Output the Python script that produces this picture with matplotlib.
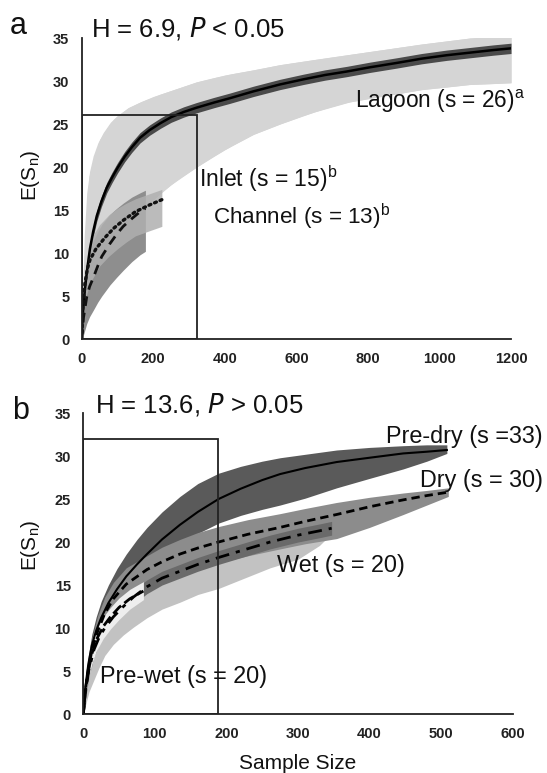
import numpy as np
import matplotlib
matplotlib.use("Agg")
import matplotlib.pyplot as plt
from matplotlib.patches import Rectangle

plt.rcParams['font.family'] = ['Liberation Sans', 'DejaVu Sans']
plt.rcParams['mathtext.fontset'] = 'custom'
plt.rcParams['mathtext.rm'] = 'Liberation Sans'

# ---------- panel a: sites ----------
lagoon_n = [0, 2, 5, 9, 15, 23, 32, 42, 55, 70, 85, 100, 120, 140, 163, 190, 220, 250, 285,
            321, 370, 414, 480, 554, 620, 680, 740, 806, 880, 950, 1020, 1085, 1150, 1200]
lagoon_mean = [0, 2, 4, 5.8, 8, 10.5, 12.5, 14.3, 16.0, 17.6, 18.8, 19.9, 21.2, 22.3, 23.4, 24.3, 25.1,
               25.8, 26.4, 26.9, 27.5, 28.0, 28.8, 29.6, 30.2, 30.7, 31.1, 31.6, 32.1, 32.6, 33.0,
               33.3, 33.6, 33.8]
lagoon_hi_n = [0, 3, 7, 14, 22, 32, 45, 60, 80, 100, 130, 160, 200, 250, 321, 400, 480, 554,
               650, 750, 850, 950, 1085, 1200]
lagoon_hi = [0, 6, 12, 17, 19.5, 21.3, 22.8, 24.0, 25.2, 26.0, 26.9, 27.5, 28.2, 28.9, 29.9, 30.7,
             31.3, 31.9, 32.5, 33.1, 33.7, 34.3, 35.0, 35.3]
lagoon_lo_n = [0, 20, 50, 90, 130, 170, 220, 270, 321, 370, 420, 480, 554, 620, 680, 740, 806,
               880, 950, 1020, 1085, 1150, 1200]
lagoon_lo = [0, 3.5, 7, 10.5, 13, 15, 17.0, 18.6, 20.0, 21.3, 22.5, 23.8, 25.0, 26.0, 26.8, 27.5,
             28.0, 28.5, 29.0, 29.3, 29.6, 29.7, 29.8]
lagoon_inner = 0.6

inlet_n = [0, 3, 9, 16, 23, 40, 65, 90, 116, 150, 190, 224]
inlet_mean = [0, 3.5, 6.5, 8.2, 9.2, 10.5, 11.8, 12.9, 13.8, 14.8, 15.6, 16.2]
inlet_band_n = [0, 9, 23, 50, 75, 100, 125, 150, 190, 224]
inlet_hi = [0, 8, 11.5, 13.3, 14.4, 15.2, 15.8, 16.3, 16.9, 17.4]
inlet_lo = [0, 4.5, 6.5, 8.5, 9.6, 10.5, 11.3, 12.0, 12.6, 13.1]

channel_n = [0, 5, 14, 22, 33, 45, 56, 79, 98, 116, 140, 163, 178]
channel_mean = [0, 2.5, 4.9, 6.1, 7.2, 8.5, 9.6, 11.1, 12.2, 13.1, 14.0, 14.8, 15.2]
channel_hi = [0, 5, 8.5, 10.2, 11.5, 12.5, 13.3, 14.5, 15.2, 15.8, 16.5, 17.0, 17.3]
channel_lo = [0, 0.5, 1.8, 2.6, 3.4, 4.3, 5.0, 6.3, 7.2, 8.0, 9.0, 9.8, 10.2]

box_a = (322, 26.0)

# ---------- panel b: seasons ----------
predry_n = [0, 3, 7, 12, 18, 25, 35, 47, 60, 75, 89, 110, 135, 160, 189, 220, 250, 275, 310,
            354, 400, 447, 480, 508]
predry_mean = [0, 3.2, 5.8, 8.0, 9.7, 11.2, 12.9, 14.5, 16.0, 17.4, 18.6, 20.3, 22.0, 23.5, 25.0,
               26.2, 27.2, 27.9, 28.6, 29.3, 29.8, 30.3, 30.5, 30.7]
predry_hi = [0, 3.8, 6.8, 9.3, 11.3, 13.1, 15.0, 16.9, 18.6, 20.3, 21.7, 23.5, 25.3, 26.8, 28.0,
             28.8, 29.4, 29.8, 30.2, 30.7, 31.0, 31.2, 31.3, 31.3]
predry_lo = [0, 2.6, 4.8, 6.7, 8.1, 9.4, 10.9, 12.3, 13.6, 14.9, 16.0, 17.7, 19.5, 21.0, 22.2,
             23.1, 23.8, 24.3, 25.1, 26.3, 27.4, 28.5, 29.4, 30.3]

dry_n = [0, 3, 7, 12, 20, 30, 42, 60, 89, 110, 135, 160, 189, 230, 275, 310, 354, 400, 447,
         480, 510]
dry_mean = [0, 2.8, 5.2, 7.4, 9.6, 11.7, 13.4, 15.1, 16.8, 17.7, 18.6, 19.3, 20.0, 20.9, 21.7,
            22.4, 23.2, 24.1, 24.9, 25.4, 25.8]
dry_hi = [0, 3.4, 6.2, 8.8, 11.4, 13.6, 15.3, 17.0, 18.4, 19.4, 20.3, 21.1, 21.8, 22.6, 23.3,
          23.9, 24.6, 25.2, 25.7, 26.0, 26.3]
dry_lo = [0, 2.2, 4.2, 6.0, 7.8, 9.8, 11.5, 13.2, 14.8, 15.6, 16.3, 17.0, 17.6, 18.4, 19.2,
          19.8, 20.4, 21.7, 23.2, 24.3, 25.3]

wet_n = [0, 3, 8, 15, 22, 30, 42, 56, 70, 89, 110, 135, 160, 189, 225, 261, 300, 330, 347]
wet_mean = [0, 2.6, 5.2, 7.5, 8.9, 10.0, 11.3, 12.5, 13.6, 14.8, 15.8, 16.6, 17.4, 18.2, 19.1,
            20.0, 20.8, 21.3, 21.6]
wet_hi = [0, 3.4, 6.4, 8.9, 10.3, 11.4, 12.7, 13.9, 15.0, 16.2, 17.1, 17.9, 18.6, 19.3, 20.3,
          21.1, 21.8, 22.1, 22.2]
wet_lo = [0, 1.0, 2.6, 4.0, 5.4, 6.8, 8.1, 9.2, 10.1, 11.2, 12.2, 13.0, 13.9, 14.6, 15.8, 17.0,
          18.0, 19.6, 21.0]
wet_inner = 0.8

prewet_n = [0, 3, 7, 12, 18, 28, 38, 50, 65, 84]
prewet_mean = [0, 2.8, 5.0, 7.0, 8.6, 10.2, 11.3, 12.4, 13.4, 14.3]
prewet_hi = [0, 3.4, 5.9, 8.2, 9.8, 11.3, 12.4, 13.5, 14.5, 15.4]
prewet_lo = [0, 2.0, 4.0, 5.8, 7.3, 8.8, 9.9, 11.0, 12.2, 13.3]

box_b = (188.6, 32.0)

W, H = 547, 773
fig = plt.figure(figsize=(W / 100, H / 100), dpi=100)
axa = fig.add_axes([0.1494, 0.5614, 0.7848, 0.3894])
axb = fig.add_axes([0.1523, 0.0763, 0.7850, 0.3894])


def style(ax, xmax, xticks):
    ax.set_xlim(0, xmax)
    ax.set_ylim(0, 35)
    ax.set_xticks(xticks)
    ax.set_yticks(range(0, 36, 5))
    for s in ("top", "right"):
        ax.spines[s].set_visible(False)
    for s in ("left", "bottom"):
        ax.spines[s].set_linewidth(1.3)
        ax.spines[s].set_color("#222222")
    ax.tick_params(length=0, pad=9, labelsize=10.5, colors="#222222")
    for lab in ax.get_xticklabels() + ax.get_yticklabels():
        lab.set_fontweight("bold")
    ax.set_facecolor("none")


# panel a
lm = np.array(lagoon_mean)
axa.fill_between(lagoon_hi_n, lagoon_hi, np.interp(lagoon_hi_n, lagoon_lo_n, lagoon_lo),
                 color="#d5d5d5", lw=0, zorder=1)
axa.fill_between(lagoon_lo_n, np.interp(lagoon_lo_n, lagoon_hi_n, lagoon_hi), lagoon_lo,
                 color="#d5d5d5", lw=0, zorder=1)
axa.fill_between(lagoon_n, lm + lagoon_inner, np.clip(lm - lagoon_inner, 0, None),
                 color="#4a4a4a", lw=0, zorder=2)
axa.plot(lagoon_n, lagoon_mean, color="black", lw=1.8, zorder=6)
axa.fill_between(channel_n, channel_hi, channel_lo, color="#8e8e8e", lw=0, zorder=3)
axa.fill_between(inlet_band_n, inlet_hi, inlet_lo, color="#b0b0b0", alpha=0.85, lw=0, zorder=4)
axa.plot(inlet_n, inlet_mean, color="#111111", lw=2.4, ls=(0, (0.6, 1.2)),
         dash_capstyle="round", zorder=6)
axa.plot(channel_n, channel_mean, color="#111111", lw=2.0, ls=(0, (3.5, 2.5)), zorder=6)
axa.add_patch(Rectangle((0, 0), box_a[0], box_a[1], fill=False, lw=1.3, ec="#222222", zorder=7))
style(axa, 1200, range(0, 1201, 200))

# panel b
axb.fill_between(wet_n, wet_hi, wet_lo, color="#c2c2c2", lw=0, zorder=1)
axb.fill_between(predry_n, predry_hi, predry_lo, color="#5a5a5a", lw=0, zorder=2)
axb.fill_between(dry_n, dry_hi, dry_lo, color="#8c8c8c", lw=0, zorder=3)
wm = np.array(wet_mean)
axb.fill_between(wet_n, wm + wet_inner, np.clip(wm - wet_inner, 0, None),
                 color="#6a6a6a", lw=0, zorder=4)
axb.fill_between(prewet_n, prewet_hi, prewet_lo, color="#eeeeee", lw=0, zorder=5)
axb.plot(predry_n, predry_mean, color="black", lw=1.5, zorder=6)
axb.plot(dry_n, dry_mean, color="black", lw=2.0, ls=(0, (3, 1.8)), zorder=6)
axb.plot(wet_n, wet_mean, color="black", lw=2.0, ls=(0, (5, 2.5, 1.5, 2.5)), zorder=6)
axb.plot(prewet_n, prewet_mean, color="black", lw=2.0, ls=(0, (4, 1.5)), zorder=6)
axb.add_patch(Rectangle((0, 0), box_b[0], box_b[1], fill=False, lw=1.3, ec="#222222", zorder=7))
style(axb, 600, range(0, 601, 100))


def txt(x, y, s, size=16.8, **kw):
    fig.text(x / W, 1 - y / H, s, fontsize=size, va="baseline", color="#111111", **kw)


txt(10, 34, "a", size=22)
txt(91, 36, "H = 6.9, $\\it{P}$ < 0.05", size=18.5)
txt(355, 108, "Lagoon (s = 26)$^\\mathregular{a}$", size=16.3)
txt(199, 187, "Inlet (s = 15)$^\\mathregular{b}$", size=16.5)
txt(213, 224, "Channel (s = 13)$^\\mathregular{b}$", size=16.2)

txt(12, 419, "b", size=22)
txt(95, 413, "H = 13.6, $\\it{P}$ > 0.05", size=18.5)
txt(543, 443, "Pre-dry (s =33)", ha="right")
txt(543, 487, "Dry (s = 30)", ha="right")
txt(277, 572, "Wet (s = 20)")
txt(100, 683, "Pre-wet (s = 20)")

fig.text(30 / W, 1 - 175 / H, "E(S$_\\mathregular{n}$)", rotation=90, fontsize=15,
         ha="center", va="center", color="#111111")
fig.text(30 / W, 1 - 545 / H, "E(S$_\\mathregular{n}$)", rotation=90, fontsize=15,
         ha="center", va="center", color="#111111")
fig.text(298 / W, 1 - 769 / H, "Sample Size", fontsize=15, ha="center", va="baseline",
         color="#111111", family=["Liberation Sans Narrow", "Liberation Sans", "DejaVu Sans"])

fig.savefig("out.png", dpi=100)
